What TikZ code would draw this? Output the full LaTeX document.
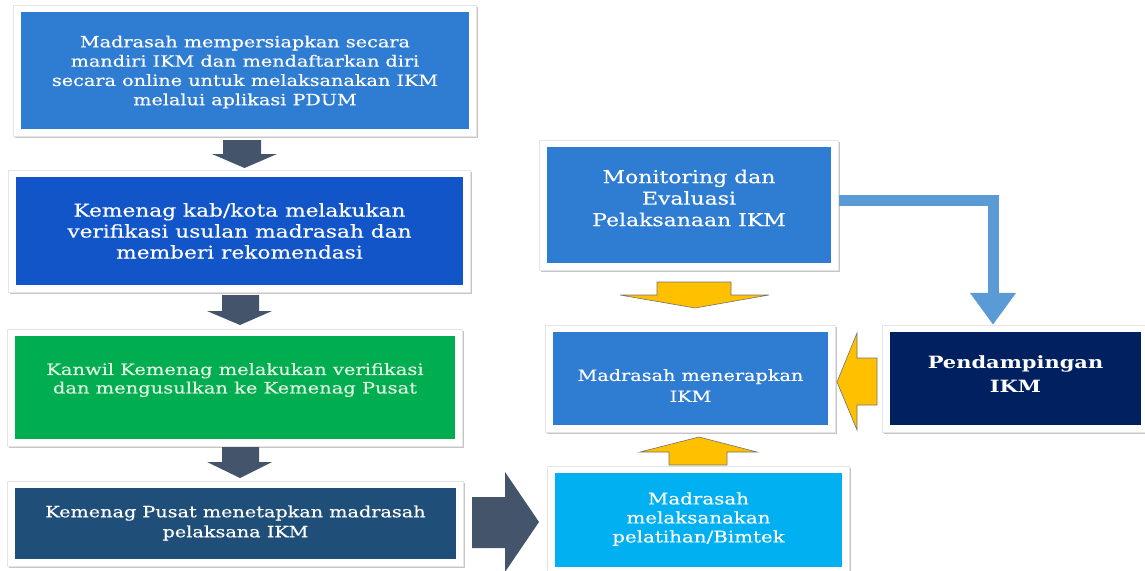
\documentclass[tikz,border=0pt]{standalone}
\usepackage{fontspec}
\setmainfont{DejaVu Serif}[FakeStretch=1.24, UprightFeatures={FakeBold=0.4}]
\usetikzlibrary{shadows,arrows.meta}
\definecolor{cbluea}{RGB}{46,125,211}
\definecolor{cblueb}{RGB}{17,85,200}
\definecolor{cgreen}{RGB}{0,173,80}
\definecolor{cdark}{RGB}{31,78,121}
\definecolor{cnavy}{RGB}{0,32,96}
\definecolor{ccyan}{RGB}{0,176,240}
\definecolor{cgrayarr}{RGB}{68,84,106}
\definecolor{cyellow}{RGB}{255,192,0}
\definecolor{cline}{RGB}{91,155,213}
\definecolor{cgtext}{RGB}{225,242,222}
\newcommand\mkbox[6]{%
  \node[frame, minimum width=#4pt+15pt, minimum height=#5pt+14pt] (#1f) at (#2,#3) {};
  \node[boxin, fill=#6, minimum width=#4pt, minimum height=#5pt] (#1) at (#2,#3) {};}
\begin{document}
\begin{tikzpicture}[x=1pt,y=-1pt,
  frame/.style={fill=white, draw=black!10, line width=0.5pt, inner sep=0,
    drop shadow={shadow xshift=1.5pt, shadow yshift=-2pt, fill=black!45, opacity=0.5}},
  boxin/.style={inner sep=0, draw=none},
  txt/.style={text=white, align=center, inner sep=0},
  grayarrow/.style={fill=cgrayarr, draw=none},
  yarrow/.style={fill=cyellow, draw=black!55, line width=0.6pt, line join=miter}]
\useasboundingbox (0,0) rectangle (1145,570);
% left column
\mkbox{b1}{245}{70.5}{448}{117}{cbluea}
\mkbox{b2}{239.5}{231}{447}{108}{cblueb}
\mkbox{b3}{235}{387.5}{440}{103}{cgreen}
\mkbox{b4}{235.5}{523.5}{441}{71}{cdark}
% right side
\mkbox{mon}{689}{205}{284}{116}{cbluea}
\mkbox{men}{690.5}{378.5}{275}{93}{cbluea}
\mkbox{pen}{1015.5}{378.5}{251}{93}{cnavy}
\mkbox{mel}{698.5}{520}{287}{94}{ccyan}
% texts
\node[txt, font=\fontsize{15.5}{19.3}\selectfont] (t1) at (245,72)
  {Madrasah mempersiapkan secara\\mandiri IKM dan mendaftarkan diri\\secara online untuk melaksanakan IKM\\melalui aplikasi PDUM};
\node[txt, font=\fontsize{17.5}{21}\selectfont] (t2) at (239.5,231)
  {Kemenag kab/kota melakukan\\verifikasi usulan madrasah dan\\memberi rekomendasi};
\node[txt, text=cgtext, font=\fontsize{15.7}{18.5}\selectfont] (t3) at (235,380)
  {Kanwil Kemenag melakukan verifikasi\\dan mengusulkan ke Kemenag Pusat};
\node[txt, font=\fontsize{15.5}{20}\selectfont] (t4) at (235.5,523)
  {Kemenag Pusat menetapkan madrasah\\pelaksana IKM};
\node[txt, font=\fontsize{17.7}{21.5}\selectfont] (tmon) at (689,198)
  {Monitoring dan\\Evaluasi\\Pelaksanaan IKM};
\node[txt, font=\fontsize{15.5}{21}\selectfont] (tmen) at (690.5,385.5)
  {Madrasah menerapkan\\IKM};
\node[txt, font=\bfseries\fontsize{16.9}{24}\selectfont] (tpen) at (1015.5,374)
  {Pendampingan\\IKM};
\node[txt, font=\fontsize{16}{19}\selectfont] (tmel) at (698.5,519)
  {Madrasah\\melaksanakan\\pelatihan/Bimtek};
% gray block arrows
\fill[grayarrow] (223,140) -- (261,140) -- (261,154) -- (277,154) -- (244.5,168) -- (212,154) -- (223,154) -- cycle;
\fill[grayarrow] (222,295) -- (259,295) -- (259,311) -- (272,311) -- (240,325) -- (207,311) -- (222,311) -- cycle;
\fill[grayarrow] (222,447) -- (259,447) -- (259,462) -- (272,462) -- (240,478) -- (207,462) -- (222,462) -- cycle;
\fill[grayarrow] (472,497) -- (505,497) -- (505,472) -- (539,522) -- (505,572) -- (505,548) -- (472,548) -- cycle;
% yellow block arrows
\draw[yarrow] (657,282) -- (731,282) -- (731,295) -- (769,295) -- (695,308) -- (620,295) -- (657,295) -- cycle;
\draw[yarrow] (877,358) -- (857,358) -- (857,333) -- (837,382) -- (857,430) -- (857,405) -- (877,405) -- cycle;
\draw[yarrow] (669,465) -- (669,452) -- (640,452) -- (699,437) -- (757,452) -- (727,452) -- (727,465) -- cycle;
% blue L connector
\coordinate (bend) at (993,200);
\draw[cline, line width=11pt, -{Triangle[width=44pt,length=32pt]}]
  (monf.east |- bend) -- (bend) -- (bend |- penf.north);
\end{tikzpicture}
\end{document}
